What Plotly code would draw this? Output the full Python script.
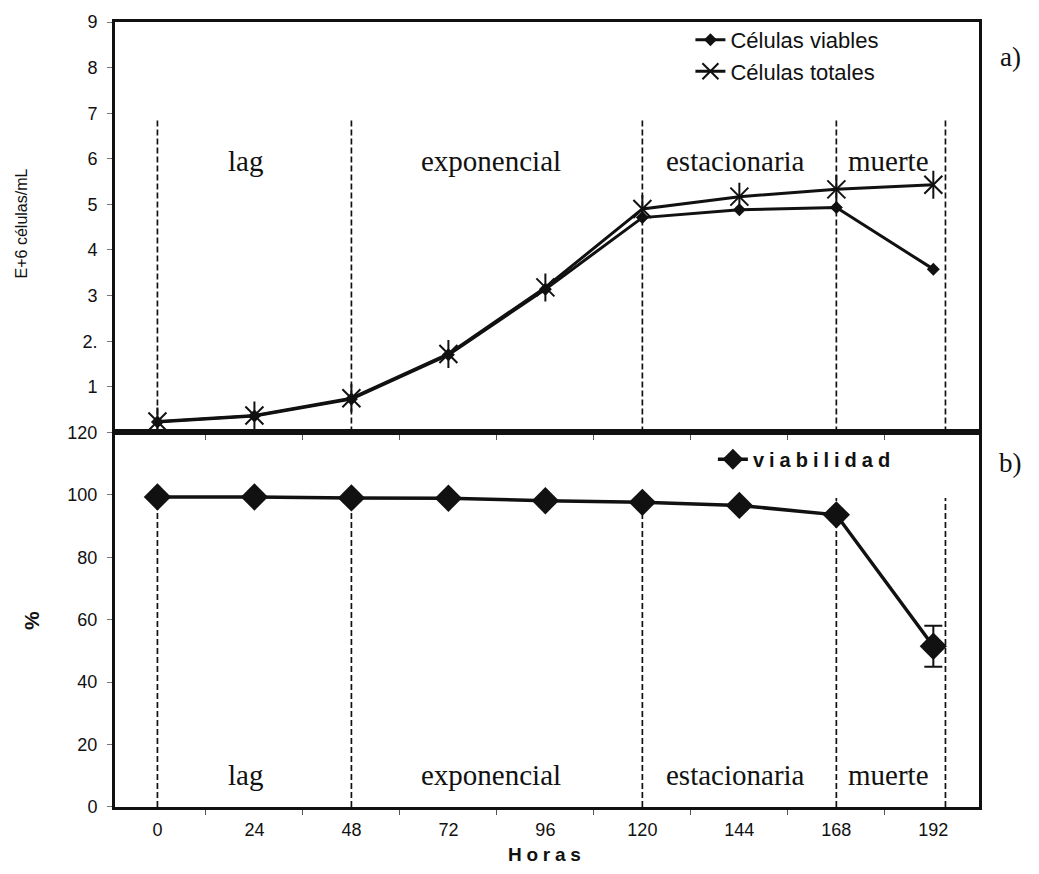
import plotly.graph_objects as go
from plotly.subplots import make_subplots

# Sampling times (h)
hours = [0, 24, 48, 72, 96, 120, 144, 168, 192]
hour_labels = ["0", "24", "48", "72", "96", "120", "144", "168", "192"]

# a) cell density (x10^6 cells/mL)
viables = [0.23, 0.36, 0.73, 1.70, 3.14, 4.71, 4.88, 4.93, 3.58]
totales = [0.24, 0.37, 0.75, 1.72, 3.18, 4.90, 5.17, 5.33, 5.43]

# b) viability (%)
viabilidad = [99.3, 99.3, 99.0, 98.9, 98.1, 97.6, 96.6, 93.6, 51.5]
viabilidad_err = [0, 0, 0, 0, 0, 0, 0, 0, 6.6]

# growth phases: boundaries (h) and label positions
phase_bounds = [0, 48, 120, 168, 195]
phase_names = ["lag", "exponencial", "estacionaria", "muerte"]
phase_label_x = [21.7, 82.5, 143.0, 181.0]

top_ticks = [1, 2, 3, 4, 5, 6, 7, 8, 9]
top_tick_text = ["1", "2.", "3", "4", "5", "6", "7", "8", "9"]
bottom_ticks = [0, 20, 40, 60, 80, 100, 120]

SANS = "Liberation Sans, Arial, sans-serif"
SERIF = "Liberation Serif, Times New Roman, serif"
INK = "#111111"
SP = "\u2005"  # four-per-em space used for letter spacing

fig = make_subplots(rows=2, cols=1, shared_xaxes=True, vertical_spacing=0,
                    row_heights=[413, 377])

fig.add_trace(go.Scatter(
    x=hours, y=viables, name="Células viables", mode="lines+markers",
    line=dict(color=INK, width=3),
    marker=dict(symbol="diamond", size=10, color=INK),
    legend="legend"), row=1, col=1)
# total cells: X marker with an extra vertical stroke (six-armed asterisk)
fig.add_trace(go.Scatter(
    x=hours, y=totales, name="Células totales", mode="lines+markers",
    line=dict(color=INK, width=3), legendgroup="tot",
    marker=dict(symbol="x-thin-open", size=18, color=INK,
                line=dict(color=INK, width=2)),
    legend="legend"), row=1, col=1)
fig.add_trace(go.Scatter(
    x=hours, y=totales, mode="markers", showlegend=False, legendgroup="tot",
    marker=dict(symbol="line-ns-open", size=20, color=INK,
                line=dict(color=INK, width=2)),
    hoverinfo="skip"), row=1, col=1)

fig.add_trace(go.Scatter(
    x=hours, y=viabilidad, name=SP.join("viabilidad"),
    mode="lines+markers",
    line=dict(color=INK, width=3.5),
    marker=dict(symbol="diamond", size=21, color=INK),
    error_y=dict(type="data", array=viabilidad_err, symmetric=True,
                 color=INK, thickness=2, width=9),
    legend="legend2"), row=2, col=1)

# dashed phase boundaries in both panels
for xb in phase_bounds:
    fig.add_shape(type="line", x0=xb, x1=xb, y0=0, y1=6.85, xref="x", yref="y",
                  line=dict(color=INK, width=1.7, dash="6px,3px"))
    fig.add_shape(type="line", x0=xb, x1=xb, y0=0, y1=99, xref="x2", yref="y2",
                  line=dict(color=INK, width=1.7, dash="6px,3px"))

for name, xl in zip(phase_names, phase_label_x):
    fig.add_annotation(x=xl, y=5.95, xref="x", yref="y", text=name, showarrow=False,
                       xanchor="center", yanchor="middle",
                       font=dict(family=SERIF, size=29, color=INK))
    fig.add_annotation(x=xl, y=10.2, xref="x2", yref="y2", text=name, showarrow=False,
                       xanchor="center", yanchor="middle",
                       font=dict(family=SERIF, size=29, color=INK))

axis_common = dict(showline=True, linecolor=INK, linewidth=3, mirror=True,
                   showgrid=False, zeroline=False)

fig.update_xaxes(range=[-10.5, 203.3], tickvals=hours, ticktext=hour_labels, ticks="",
                 minor=dict(tickvals=[12, 36, 60, 84, 108, 132, 156, 180],
                            ticks="outside", ticklen=5, tickcolor="#555", tickwidth=1),
                 tickfont=dict(family=SANS, size=18, color=INK),
                 ticklabelstandoff=4,
                 **axis_common)
fig.update_xaxes(showticklabels=False, row=1, col=1)

fig.update_yaxes(range=[0, 9], tickvals=top_ticks, ticktext=top_tick_text,
                 ticks="outside", ticklen=5, tickcolor="#777",
                 tickfont=dict(family=SANS, size=18, color=INK),
                 ticklabelstandoff=6,
                 row=1, col=1, **axis_common)
fig.update_yaxes(range=[0, 120], tickvals=bottom_ticks,
                 ticks="outside", ticklen=5, tickcolor="#777",
                 tickfont=dict(family=SANS, size=18, color=INK),
                 ticklabelstandoff=6,
                 row=2, col=1, **axis_common)

# axis titles and panel tags
fig.add_annotation(x=-0.108, y=0.743, xref="paper", yref="paper", text="E+6 células/mL",
                   textangle=-90, showarrow=False, xanchor="center", yanchor="middle",
                   font=dict(family=SANS, size=16, color=INK))
fig.add_annotation(x=-0.096, y=0.237, xref="paper", yref="paper", text="<b>%</b>",
                   textangle=-90, showarrow=False, xanchor="center", yanchor="middle",
                   font=dict(family=SANS, size=21, color=INK))
fig.add_annotation(x=0.497, y=-0.061, xref="paper", yref="paper",
                   text="<b>" + SP.join("Horas") + "</b>", showarrow=False,
                   xanchor="center", yanchor="middle",
                   font=dict(family=SANS, size=19, color=INK))
fig.add_annotation(x=1.036, y=0.956, xref="paper", yref="paper", text="a)",
                   showarrow=False, xanchor="center", yanchor="middle",
                   font=dict(family=SERIF, size=27, color=INK))
fig.add_annotation(x=1.036, y=0.438, xref="paper", yref="paper", text="b)",
                   showarrow=False, xanchor="center", yanchor="middle",
                   font=dict(family=SERIF, size=27, color=INK))

fig.update_layout(
    width=1039, height=874,
    margin=dict(l=115, r=60, t=17, b=67),
    paper_bgcolor="white", plot_bgcolor="white",
    legend=dict(x=0.666, y=1.004, xanchor="left", yanchor="top",
                bgcolor="rgba(0,0,0,0)", itemwidth=30, tracegroupgap=0,
                font=dict(family=SANS, size=22, color=INK)),
    legend2=dict(x=0.692, y=0.443, xanchor="left", yanchor="middle",
                 bgcolor="rgba(0,0,0,0)", itemwidth=30,
                 font=dict(family=SANS, size=20, color=INK, weight="bold")),
)

fig.write_html("out.html")
